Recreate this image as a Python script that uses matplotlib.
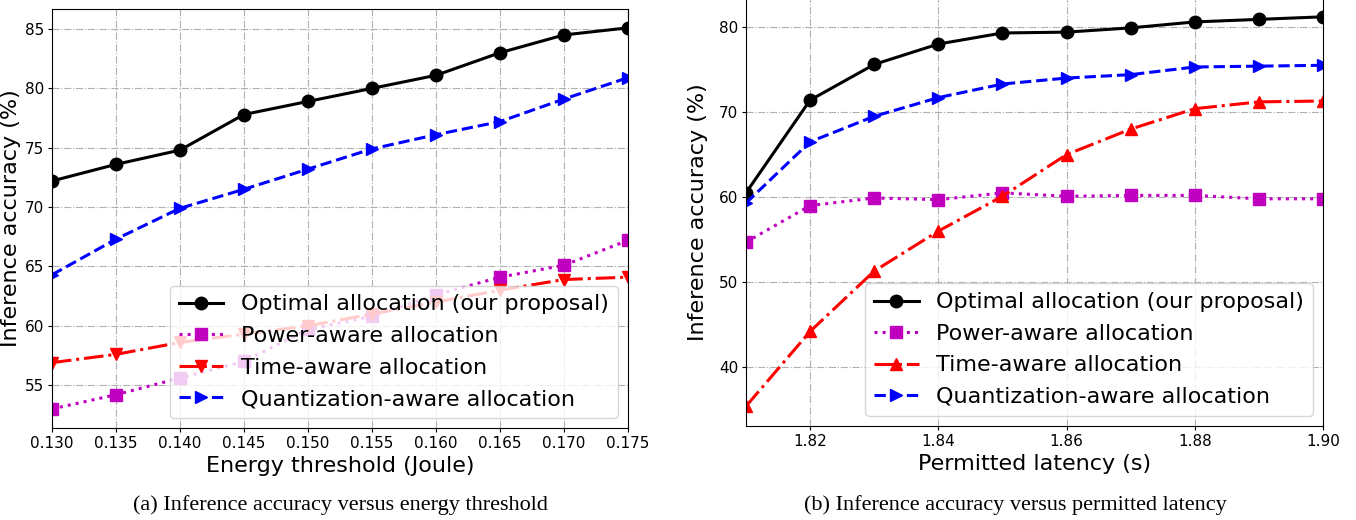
import numpy as np
import matplotlib
matplotlib.use("Agg")
import matplotlib.pyplot as plt

# (a) accuracy vs energy threshold
energy = [0.130, 0.135, 0.140, 0.145, 0.150, 0.155, 0.160, 0.165, 0.170, 0.175]
energy_optimal = [72.2, 73.6, 74.8, 77.8, 78.9, 80.0, 81.1, 83.0, 84.5, 85.1]
energy_power = [53.0, 54.2, 55.6, 57.0, 59.7, 60.8, 62.6, 64.1, 65.1, 67.2]
energy_time = [56.9, 57.6, 58.6, 59.3, 60.0, 61.0, 62.0, 63.0, 63.9, 64.1]
energy_quant = [64.3, 67.3, 69.9, 71.5, 73.2, 74.9, 76.1, 77.2, 79.1, 80.9]

# (b) accuracy vs permitted latency
latency = [1.81, 1.82, 1.83, 1.84, 1.85, 1.86, 1.87, 1.88, 1.89, 1.90]
lat_optimal = [60.5, 71.4, 75.6, 78.0, 79.3, 79.4, 79.9, 80.6, 80.9, 81.2]
lat_power = [54.7, 59.0, 59.9, 59.7, 60.5, 60.1, 60.2, 60.2, 59.8, 59.8]
lat_time = [35.4, 44.2, 51.3, 56.0, 60.1, 65.0, 68.0, 70.4, 71.2, 71.3]
lat_quant = [59.3, 66.5, 69.5, 71.7, 73.3, 74.0, 74.4, 75.3, 75.4, 75.5]

labels = ['Optimal allocation (our proposal)', 'Power-aware allocation',
          'Time-aware allocation', 'Quantization-aware allocation']

fig = plt.figure(figsize=(13.56, 5.20), dpi=100)
ax1 = fig.add_axes([0.0383, 0.177, 0.4247, 0.806])
ax2 = fig.add_axes([0.5501, 0.181, 0.4256, 0.821])


def draw(ax, x, opt, pw, tm, qt, time_marker):
    kw = dict(linewidth=2.2, markersize=9)
    ax.plot(x, opt, color='black', linestyle='-', marker='o', label=labels[0], **kw)
    ax.plot(x, pw, color='m', linestyle=':', marker='s', label=labels[1], **kw)
    ax.plot(x, tm, color='red', linestyle='-.', marker=time_marker, label=labels[2], **kw)
    ax.plot(x, qt, color='blue', linestyle='--', marker='>', label=labels[3], **kw)
    ax.grid(color='#b0b0b0', linestyle='-.', linewidth=0.8)
    ax.tick_params(labelsize=11, length=3, pad=2.5)
    ax.set_ylabel('Inference accuracy (%)', fontsize=16)
    ax.legend(loc='lower right', fontsize=16, framealpha=0.8, handlelength=2.0,
              borderpad=0.4, labelspacing=0.52, borderaxespad=0.45)


draw(ax1, energy, energy_optimal, energy_power, energy_time, energy_quant, 'v')
ax1.set_xlim(0.130, 0.175)
ax1.set_ylim(51.4, 86.7)
ax1.set_xticks(energy)
ax1.set_xticklabels([f'{v:.3f}' for v in energy])
ax1.set_yticks([55, 60, 65, 70, 75, 80, 85])
ax1.set_xlabel('Energy threshold (Joule)', fontsize=16)
ax1.yaxis.set_label_coords(-0.053, 0.5)

draw(ax2, latency, lat_optimal, lat_power, lat_time, lat_quant, '^')
ax2.set_xlim(1.81, 1.90)
ax2.set_ylim(33.1, 83.3)
ax2.set_xticks([1.82, 1.84, 1.86, 1.88, 1.90])
ax2.set_xticklabels(['1.82', '1.84', '1.86', '1.88', '1.90'])
ax2.set_yticks([40, 50, 60, 70, 80])
ax2.set_xlabel('Permitted latency (s)', fontsize=16)
ax2.yaxis.set_label_coords(-0.066, 0.5)

fig.text(0.2507, 0.028, '(a) Inference accuracy versus energy threshold',
         ha='center', va='center', fontsize=16, family='Liberation Serif')
fig.text(0.7485, 0.028, '(b) Inference accuracy versus permitted latency',
         ha='center', va='center', fontsize=16, family='Liberation Serif')

fig.savefig('out.png', dpi=100)
